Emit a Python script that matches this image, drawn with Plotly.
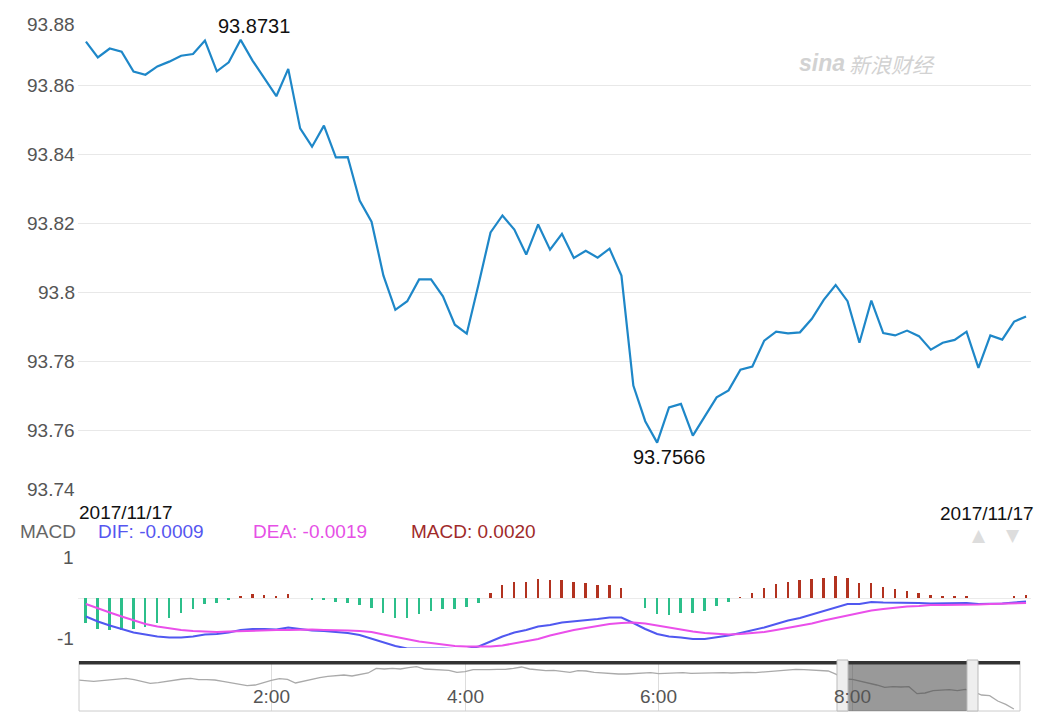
import numpy as np
import pandas as pd
import plotly.graph_objects as go

# ---------------- data ----------------
main_start = "2017-11-17 07:54"
price = [93.8726, 93.8680, 93.8706, 93.8697, 93.8639, 93.8630, 93.8654, 93.8668, 93.8685, 93.8690,
         93.8729, 93.8640, 93.8666, 93.8731, 93.8671, 93.8618, 93.8568, 93.8647, 93.8475, 93.8422,
         93.8483, 93.8391, 93.8392, 93.8266, 93.8205, 93.8049, 93.7950, 93.7975, 93.8038, 93.8038,
         93.7989, 93.7907, 93.7881, 93.8025, 93.8174, 93.8223, 93.8182, 93.8110, 93.8197, 93.8124,
         93.8170, 93.8100, 93.8121, 93.8101, 93.8127, 93.8049, 93.7731, 93.7628, 93.7566, 93.7668,
         93.7678, 93.7586, 93.7642, 93.7697, 93.7717, 93.7777, 93.7786, 93.7861, 93.7887, 93.7882,
         93.7885, 93.7924, 93.7979, 93.8022, 93.7975, 93.7855, 93.7977, 93.7883, 93.7876, 93.7890,
         93.7874, 93.7835, 93.7855, 93.7863, 93.7887, 93.7782, 93.7876, 93.7864, 93.7916, 93.7931]

macd_hist = [-0.50, -0.62, -0.64, -0.64, -0.61, -0.57, -0.49, -0.40, -0.30, -0.22,
             -0.12, -0.09, -0.03, 0.05, 0.08, 0.07, 0.03, 0.08, 0.00, -0.03,
             -0.03, -0.08, -0.09, -0.14, -0.20, -0.29, -0.39, -0.39, -0.32, -0.25,
             -0.21, -0.21, -0.18, -0.09, 0.10, 0.26, 0.33, 0.33, 0.38, 0.37,
             0.37, 0.33, 0.30, 0.27, 0.26, 0.20, 0.00, -0.20, -0.32, -0.33,
             -0.30, -0.30, -0.25, -0.15, -0.07, 0.02, 0.10, 0.21, 0.29, 0.33,
             0.36, 0.38, 0.41, 0.45, 0.41, 0.31, 0.30, 0.23, 0.18, 0.15,
             0.10, 0.06, 0.03, 0.03, 0.03, 0.00, 0.00, 0.00, 0.03, 0.07]

dif = [-0.37, -0.47, -0.55, -0.62, -0.69, -0.73, -0.77, -0.79, -0.79, -0.77,
       -0.73, -0.72, -0.69, -0.64, -0.62, -0.62, -0.63, -0.59, -0.62, -0.65,
       -0.66, -0.68, -0.70, -0.74, -0.81, -0.89, -0.96, -1.01, -1.01, -1.00,
       -1.01, -1.02, -1.02, -0.97, -0.87, -0.77, -0.69, -0.64, -0.57, -0.54,
       -0.49, -0.47, -0.44, -0.42, -0.39, -0.39, -0.50, -0.62, -0.72, -0.77,
       -0.79, -0.82, -0.82, -0.79, -0.75, -0.70, -0.65, -0.59, -0.52, -0.45,
       -0.40, -0.33, -0.27, -0.19, -0.12, -0.12, -0.08, -0.09, -0.09, -0.09,
       -0.10, -0.11, -0.11, -0.11, -0.10, -0.12, -0.12, -0.11, -0.09, -0.07]

dea = [-0.12, -0.21, -0.29, -0.37, -0.45, -0.52, -0.57, -0.61, -0.64, -0.66,
       -0.67, -0.68, -0.67, -0.66, -0.66, -0.65, -0.64, -0.64, -0.63, -0.63,
       -0.64, -0.64, -0.65, -0.66, -0.68, -0.73, -0.78, -0.83, -0.87, -0.90,
       -0.93, -0.96, -0.97, -0.97, -0.97, -0.95, -0.91, -0.87, -0.82, -0.75,
       -0.69, -0.64, -0.60, -0.56, -0.52, -0.50, -0.49, -0.51, -0.55, -0.60,
       -0.64, -0.67, -0.70, -0.72, -0.73, -0.72, -0.70, -0.68, -0.64, -0.60,
       -0.55, -0.51, -0.45, -0.40, -0.35, -0.31, -0.25, -0.22, -0.19, -0.17,
       -0.16, -0.14, -0.14, -0.14, -0.13, -0.13, -0.12, -0.11, -0.11, -0.10]

nav_start = "2017-11-17 00:00"
nav_price = [93.8649, 93.8572, 93.8546, 93.8598, 93.8649, 93.8675, 93.8777, 93.8675, 93.8521, 93.8393,
             93.8444, 93.8546, 93.8649, 93.8726, 93.8777, 93.8675, 93.8675, 93.8649, 93.8546, 93.8418,
             93.8290, 93.8213, 93.8264, 93.8469, 93.8623, 93.8751, 93.8700, 93.8418, 93.8572, 93.8726,
             93.8828, 93.8931, 93.8982, 93.9034, 93.8957, 93.9085, 93.9187, 93.9546, 93.9495, 93.9546,
             93.9495, 93.9598, 93.9675, 93.9495, 93.9444, 93.9418, 93.9393, 93.9239, 93.9290, 93.9444,
             93.9418, 93.9444, 93.9469, 93.9469, 93.9546, 93.9649, 93.9495, 93.9418, 93.9367, 93.9393,
             93.9290, 93.9239, 93.9367, 93.9341, 93.9239, 93.9187, 93.9162, 93.9110, 93.9110, 93.9136,
             93.9187, 93.9213, 93.9136, 93.9162, 93.9187, 93.9213, 93.9162, 93.9187, 93.9162, 93.9187,
             93.9213, 93.9187, 93.9239, 93.9239, 93.9213, 93.9264, 93.9290, 93.9341, 93.9418, 93.9469,
             93.9444, 93.9393, 93.9367, 93.9341, 93.9085, 93.8726, 93.8700, 93.8572, 93.8418, 93.8264,
             93.8085, 93.8136, 93.8110, 93.8136, 93.7598, 93.7649, 93.7828, 93.7880, 93.7905, 93.7828,
             93.7931, 93.7751, 93.7495, 93.7444, 93.7034, 93.6777, 93.6418]

price_ticks = [93.88, 93.86, 93.84, 93.82, 93.80, 93.78, 93.76, 93.74]
price_tick_text = ["93.88", "93.86", "93.84", "93.82", "93.8", "93.78", "93.76", "93.74"]
nav_ticks = ["2017-11-17 02:00", "2017-11-17 04:00", "2017-11-17 06:00", "2017-11-17 08:00"]
nav_tick_text = ["2:00", "4:00", "6:00", "8:00"]
date_label = "2017/11/17"
legend_items = [("MACD", "#666666"), ("DIF: -0.0009", "#5656f0"),
                ("DEA: -0.0019", "#e650e6"), ("MACD: 0.0020", "#a02a2a")]

# ---------------- figure ----------------
W, H = 1047, 720
FONT = "Liberation Sans, Arial, Helvetica, sans-serif"
t_main = pd.date_range(main_start, periods=len(price), freq="min")
t_nav = pd.date_range(nav_start, periods=len(nav_price), freq="5min")

def fx(px):
    return px / W

def fy(py):
    return 1 - py / H

fig = go.Figure()

fig.add_trace(go.Scatter(x=t_main, y=price, mode="lines",
                         line=dict(color="#1e87c8", width=2.2), xaxis="x", yaxis="y",
                         hoverinfo="skip"))

bar_colors = ["#b2321f" if v > 0 else "#2cbf8a" for v in macd_hist]
fig.add_trace(go.Bar(x=t_main, y=macd_hist, marker=dict(color=bar_colors, line=dict(width=0)),
                     width=10000, xaxis="x", yaxis="y2", hoverinfo="skip"))
fig.add_trace(go.Scatter(x=t_main, y=dif, mode="lines", line=dict(color="#5058f0", width=2),
                         xaxis="x", yaxis="y2", hoverinfo="skip"))
fig.add_trace(go.Scatter(x=t_main, y=dea, mode="lines", line=dict(color="#ea4fea", width=2),
                         xaxis="x", yaxis="y2", hoverinfo="skip"))

fig.add_trace(go.Scatter(x=t_nav, y=nav_price, mode="lines", line=dict(color="#aaaaaa", width=1.3),
                         xaxis="x2", yaxis="y3", hoverinfo="skip"))

fig.update_layout(
    width=W, height=H, margin=dict(l=0, r=0, t=0, b=0),
    paper_bgcolor="white", plot_bgcolor="white", showlegend=False,
    font=dict(family=FONT),
    bargap=0,
    xaxis=dict(domain=[fx(78), fx(1031)], anchor="y2", type="date",
               range=["2017-11-17 07:53:20", "2017-11-17 09:13:25"],
               showticklabels=False, showgrid=False, zeroline=False, showline=False),
    yaxis=dict(domain=[fy(500), fy(16)], anchor="x", range=[93.74, 93.88],
               tickvals=price_ticks, showticklabels=False, showgrid=True,
               gridcolor="#e8e8e8", gridwidth=1, zeroline=False, showline=False),
    yaxis2=dict(domain=[fy(648), fy(548)], anchor="x", range=[-1, 1],
                tickvals=[-1, 0, 1], showticklabels=False, showgrid=True,
                gridcolor="#ebebeb", gridwidth=1, zeroline=False, showline=False),
    xaxis2=dict(domain=[fx(79), fx(1020)], anchor="y3", type="date",
                range=["2017-11-17 00:00:52", "2017-11-17 09:43:48"],
                tickvals=nav_ticks, showticklabels=False, showgrid=True,
                gridcolor="#dddddd", zeroline=False, showline=False),
    yaxis3=dict(domain=[fy(711), fy(661)], anchor="x2", range=[93.6264, 94.0110],
                showticklabels=False, showgrid=False, zeroline=False, showline=False),
)

annotations = []
# price axis labels
for v, txt in zip(price_ticks, price_tick_text):
    shift = 0
    if v == max(price_ticks):
        shift = -8
    elif v == min(price_ticks):
        shift = 11
    annotations.append(dict(x=fx(77), xref="paper", y=v, yref="y", yshift=shift,
                            text=txt, showarrow=False, xanchor="right", yanchor="middle",
                            font=dict(size=19, color="#555555", family=FONT)))

# max / min labels
imax = int(np.argmax(price))
imin = int(np.argmin(price))
annotations.append(dict(x=t_main[imax], y=price[imax], xref="x", yref="y", xshift=13, yshift=1,
                        text=f"{price[imax]:.4f}", showarrow=False, xanchor="center",
                        yanchor="bottom", font=dict(size=20, color="#111111", family=FONT)))
annotations.append(dict(x=t_main[imin], y=price[imin], xref="x", yref="y", xshift=12, yshift=-1,
                        text=f"{price[imin]:.4f}", showarrow=False, xanchor="center",
                        yanchor="top", font=dict(size=20, color="#111111", family=FONT)))

# date labels
annotations.append(dict(x=fx(77), y=fy(512), xref="paper", yref="paper", text=date_label,
                        showarrow=False, xanchor="left", yanchor="middle",
                        font=dict(size=19, color="#111111", family=FONT)))
annotations.append(dict(x=fx(1036), y=fy(513), xref="paper", yref="paper", text=date_label,
                        showarrow=False, xanchor="right", yanchor="middle",
                        font=dict(size=19, color="#111111", family=FONT)))

# MACD legend
legend_centers = [48, 151, 310, 473]
for (txt, col), cx in zip(legend_items, legend_centers):
    annotations.append(dict(x=fx(cx), y=fy(531), xref="paper", yref="paper", text=txt,
                            showarrow=False, xanchor="center", yanchor="middle",
                            font=dict(size=19, color=col, family=FONT)))

# MACD axis labels
annotations.append(dict(x=fx(76), y=fy(557), xref="paper", yref="paper", text="1",
                        showarrow=False, xanchor="right", yanchor="middle",
                        font=dict(size=19, color="#555555", family=FONT)))
annotations.append(dict(x=fx(76), y=fy(638), xref="paper", yref="paper", text="-1",
                        showarrow=False, xanchor="right", yanchor="middle",
                        font=dict(size=19, color="#555555", family=FONT)))

# arrows
annotations.append(dict(x=fx(987), y=fy(535), xref="paper", yref="paper", text="▲",
                        showarrow=False, yanchor="middle", borderpad=0,
                        font=dict(size=17, color="#dddddd", family="DejaVu Sans")))
annotations.append(dict(x=fx(1021), y=fy(535), xref="paper", yref="paper", text="▼",
                        showarrow=False, yanchor="middle", borderpad=0,
                        font=dict(size=17, color="#dddddd", family="DejaVu Sans")))

# watermark
annotations.append(dict(x=fx(846), y=fy(63), xref="paper", yref="paper", text="<b><i>sina</i></b>",
                        showarrow=False, xanchor="right", yanchor="middle", borderpad=0,
                        font=dict(size=23, color="#d2d2d2", family=FONT)))
annotations.append(dict(x=fx(848), y=fy(64), xref="paper", yref="paper", text="<i>新浪财经</i>",
                        showarrow=False, xanchor="left", yanchor="middle", borderpad=0,
                        font=dict(size=21, color="#d2d2d2",
                                  family="Noto Sans CJK SC, sans-serif")))

# navigator tick labels
for tv, tt in zip(nav_ticks, nav_tick_text):
    annotations.append(dict(x=tv, xref="x2", y=fy(696), yref="paper", text=tt,
                            showarrow=False, xanchor="center", yanchor="middle",
                            font=dict(size=19, color="#555555", family=FONT)))

fig.update_layout(annotations=annotations)

shapes = [
    # navigator frame
    dict(type="line", xref="paper", yref="paper", x0=fx(79), x1=fx(79), y0=fy(711), y1=fy(661),
         line=dict(color="#cccccc", width=1)),
    dict(type="line", xref="paper", yref="paper", x0=fx(1020), x1=fx(1020), y0=fy(711), y1=fy(661),
         line=dict(color="#cccccc", width=1)),
    dict(type="line", xref="paper", yref="paper", x0=fx(79), x1=fx(1020), y0=fy(711), y1=fy(711),
         line=dict(color="#cccccc", width=1)),
    # dark top bar
    dict(type="rect", xref="paper", yref="paper", x0=fx(79), x1=fx(1020), y0=fy(664.5), y1=fy(661),
         fillcolor="#333333", line=dict(width=0), layer="above"),
    # selection window
    dict(type="rect", xref="paper", yref="paper", x0=fx(848), x1=fx(967), y0=fy(711), y1=fy(664),
         fillcolor="rgba(70,70,70,0.55)", line=dict(width=0), layer="above"),
    # handles
    dict(type="rect", xref="paper", yref="paper", x0=fx(837), x1=fx(848), y0=fy(711), y1=fy(660),
         fillcolor="#eeeeee", line=dict(color="#bbbbbb", width=1), layer="above"),
    dict(type="rect", xref="paper", yref="paper", x0=fx(967), x1=fx(978), y0=fy(711), y1=fy(660),
         fillcolor="#eeeeee", line=dict(color="#bbbbbb", width=1), layer="above"),
]
fig.update_layout(shapes=shapes)

fig.write_html("out.html")
